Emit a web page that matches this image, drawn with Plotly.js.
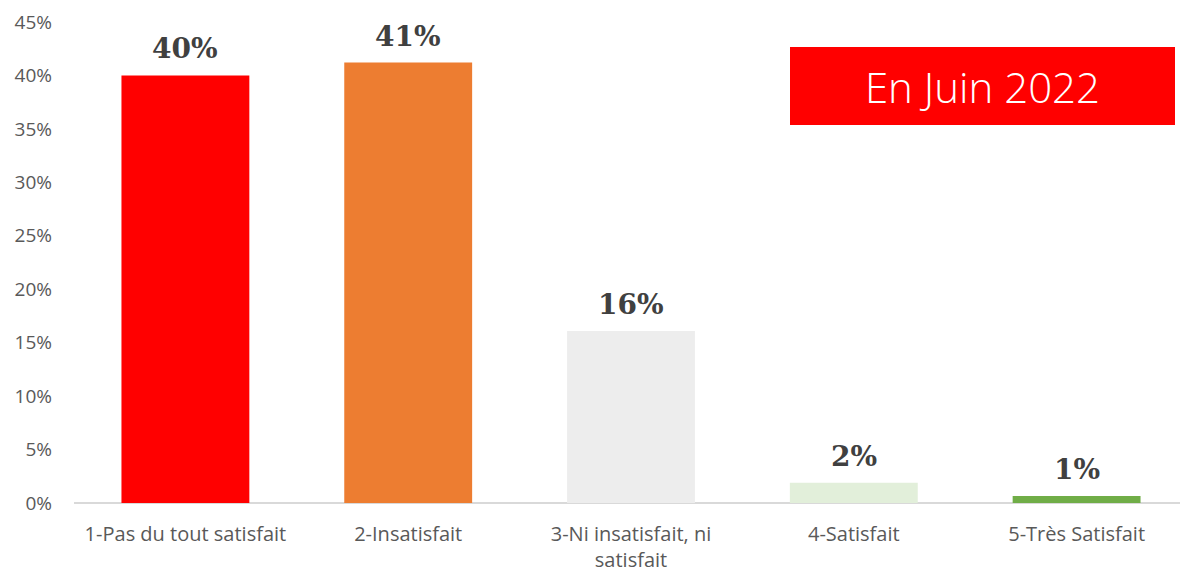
<!DOCTYPE html>
<html>
<head>
<meta charset="utf-8">
<script src="https://cdn.plot.ly/plotly-3.0.1.min.js"></script>
<style>
html,body{margin:0;padding:0;overflow:hidden;background:#fff;}
#chart{width:1190px;height:573px;}
</style>
</head>
<body>
<div id="chart"></div>
<script>
const categories = ["1-Pas du tout satisfait", "2-Insatisfait", "3-Ni insatisfait, ni<br>satisfait", "4-Satisfait", "5-Très Satisfait"];
const values = [0.40, 0.412, 0.161, 0.019, 0.0065];
const valueLabels = ["40%", "41%", "16%", "2%", "1%"];
const barColors = ["#FF0000", "#ED7D31", "#EDEDED", "#E2EFDA", "#70AD47"];
const yTickVals = [0, 0.05, 0.10, 0.15, 0.20, 0.25, 0.30, 0.35, 0.40, 0.45];
const yTickText = ["0%", "5%", "10%", "15%", "20%", "25%", "30%", "35%", "40%", "45%"];
const boxTitle = "En Juin 2022";

const trace = {
  type: "bar",
  x: categories,
  y: values,
  marker: {color: barColors},
  width: 0.574,
  hoverinfo: "none"
};

const annotations = categories.map((c, i) => ({
  x: c, y: values[i], xref: "x", yref: "y",
  text: valueLabels[i],
  showarrow: false,
  yanchor: "bottom",
  yshift: 8,
  font: {family: "DejaVu Serif, Liberation Serif, serif", size: 28, color: "#404040", weight: 700}
}));

annotations.push({
  xref: "paper", yref: "paper",
  x: (790 - 73.5) / 1115, y: (503 - 47) / 481,
  xanchor: "left", yanchor: "top",
  width: 385, height: 78,
  bgcolor: "#FF0000",
  borderpad: 0, borderwidth: 0,
  showarrow: false,
  align: "center", valign: "middle",
  text: boxTitle,
  font: {family: "Open Sans, Lato, sans-serif", size: 42, color: "#FFFFFF", weight: 300}
});

const layout = {
  width: 1190, height: 573,
  margin: {l: 73.5, r: 1.5, t: 22, b: 70},
  paper_bgcolor: "#FFFFFF",
  plot_bgcolor: "#FFFFFF",
  showlegend: false,
  bargap: 0.426,
  xaxis: {
    type: "category",
    range: [-0.5, 4.5],
    showgrid: false,
    zeroline: false,
    showline: false,
    ticks: "",
    ticklabelstandoff: 17,
    tickfont: {family: "Open Sans, Lato, sans-serif", size: 20, color: "#595959"},
    fixedrange: true
  },
  yaxis: {
    range: [0, 0.45],
    tickvals: yTickVals,
    ticktext: yTickText,
    showgrid: false,
    zeroline: true,
    zerolinecolor: "#D9D9D9",
    zerolinewidth: 2,
    showline: false,
    ticks: "",
    ticklabelstandoff: 21,
    tickfont: {family: "Open Sans, Lato, sans-serif", size: 19, color: "#595959"},
    fixedrange: true
  },
  annotations: annotations
};

Plotly.newPlot("chart", [trace], layout, {displayModeBar: false, staticPlot: true});
</script>
</body>
</html>
